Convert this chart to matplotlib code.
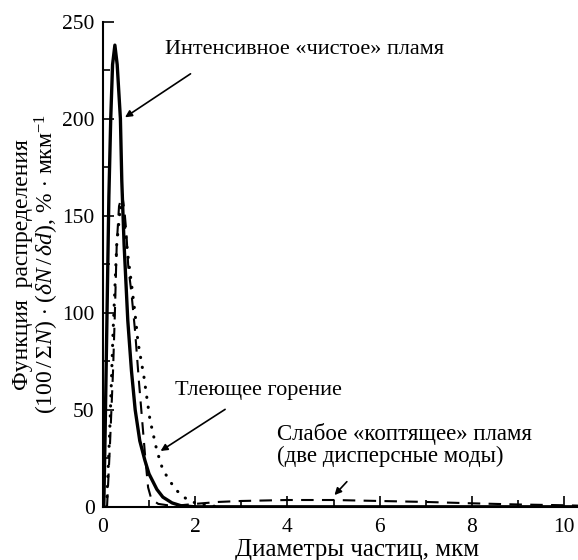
import matplotlib
matplotlib.use("Agg")
import matplotlib.pyplot as plt
from matplotlib.ticker import MultipleLocator

plt.rcParams['font.family'] = ['Liberation Serif', 'DejaVu Serif']
plt.rcParams['mathtext.fontset'] = 'custom'
plt.rcParams['mathtext.rm'] = 'Liberation Serif'
plt.rcParams['mathtext.it'] = 'Liberation Serif:italic'

# Интенсивное «чистое» пламя (сплошная)
x_clean = [0.02, 0.05, 0.09, 0.13, 0.17, 0.21, 0.26, 0.31, 0.38, 0.41, 0.46, 0.54,
           0.62, 0.70, 0.80, 0.91, 1.0, 1.17, 1.3, 1.5, 1.7, 2.0, 10.3]
y_clean = [0, 40, 100, 160, 200, 228, 238, 228, 200, 168, 135, 96,
           70, 50, 34, 24, 17, 9, 5, 2, 0.5, 0, 0]

# Слабое «коптящее» пламя (пунктир, две моды)
x_smoky = [0.09, 0.15, 0.22, 0.26, 0.30, 0.35, 0.42, 0.47, 0.51, 0.55, 0.62, 0.70,
           0.78, 0.85, 0.92, 0.98, 1.05, 1.2, 1.4, 1.6, 2.0, 2.5, 3.0, 4.0, 5.0,
           6.0, 7.0, 8.0, 9.0, 10.0, 10.3]
y_smoky = [0, 30, 70, 100, 135, 155, 161, 152, 141, 124, 110, 90,
           65, 45, 25, 10, 4, 1.5, 0.8, 0.6, 1.5, 2.5, 3.0, 3.5, 3.5,
           3.0, 2.5, 1.8, 1.2, 0.8, 0.6]

# Тлеющее горение (точки)
x_smold = [0.08, 0.15, 0.22, 0.30, 0.38, 0.45, 0.55, 0.63, 0.70, 0.76, 0.89, 1.02,
           1.17, 1.30, 1.57, 1.78, 2.0, 2.3, 2.6]
y_smold = [0, 40, 90, 135, 155, 150, 128, 113, 99, 85, 67, 45,
           29, 19, 9, 4.6, 2, 0.5, 0]

fig = plt.figure(figsize=(5.78, 5.60), dpi=100)
ax = fig.add_axes([0.178, 0.095, 0.822, 0.866])

ax.plot(x_clean, y_clean, color="black", lw=2.4, solid_capstyle="round")
ax.plot(x_smoky, y_smoky, color="black", lw=1.5, linestyle=(0, (6, 4)))
ax.plot(x_smold, y_smold, color="black", lw=2.2, linestyle=(0, (0.1, 3.2)),
        dash_capstyle="round")

ax.set_xlim(0, 10.3)
ax.set_ylim(0, 250)
ax.spines["top"].set_visible(False)
ax.spines["right"].set_visible(False)
ax.spines["left"].set_linewidth(1.5)
ax.spines["bottom"].set_linewidth(1.5)

ax.xaxis.set_major_locator(MultipleLocator(2))
ax.xaxis.set_minor_locator(MultipleLocator(1))
ax.yaxis.set_major_locator(MultipleLocator(50))
ax.yaxis.set_minor_locator(MultipleLocator(25))
ax.tick_params(which="major", direction="in", length=8, width=1.2, labelsize=15.5)
ax.tick_params(axis="y", which="major", pad=6)
ax.tick_params(axis="x", which="major", pad=8)
ax.tick_params(which="minor", direction="in", length=5, width=1.2)

ax.set_xlabel("Диаметры частиц, мкм", fontsize=18)
ax.xaxis.set_label_coords(0.535, -0.066)
ax.set_ylabel("Функция  распределения\n"
              "$(100\\,/\\,\\Sigma N)\\,\\cdot\\,(\\delta N\\,/\\,\\delta d)$, "
              "%$\\,\\cdot\\,$мкм$^{-1}$",
              fontsize=17, linespacing=1.0)
ax.yaxis.set_label_coords(-0.088, 0.50)

arr = dict(arrowstyle="-|>", color="black", lw=1.2, mutation_scale=10)
ax.text(1.34, 235.5, "Интенсивное «чистое» пламя", fontsize=16, va="center")
ax.annotate("", xy=(0.43, 200), xytext=(1.95, 224), arrowprops=arr)
ax.text(1.56, 60, "Тлеющее горение", fontsize=16, va="center")
ax.annotate("", xy=(1.2, 28), xytext=(2.7, 51), arrowprops=arr)
ax.text(3.77, 32, "Слабое «коптящее» пламя\n(две дисперсные моды)",
        fontsize=16.5, va="center", linespacing=1.05)
ax.annotate("", xy=(4.98, 5), xytext=(5.33, 14), arrowprops=arr)

fig.savefig("out.png", dpi=100)
